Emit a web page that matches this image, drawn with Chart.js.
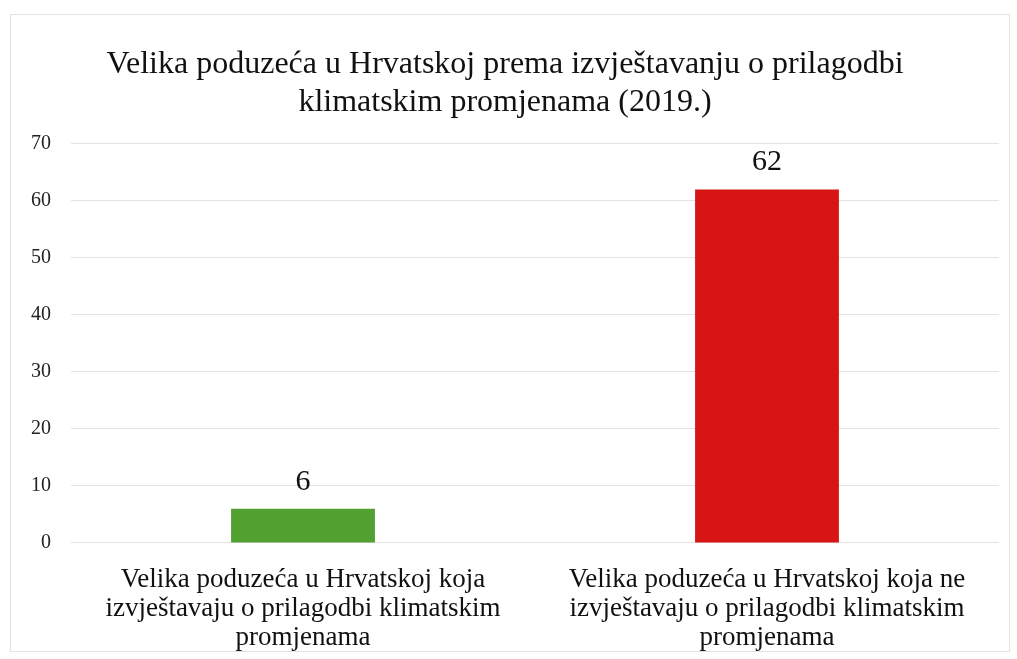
<!DOCTYPE html>
<html lang="hr">
<head>
    <meta charset="UTF-8">
    <title>Velika poduzeća u Hrvatskoj</title>
    <script src="https://cdn.jsdelivr.net/npm/chart.js"></script>
    <style>
        body { margin: 0; background: #fff; overflow: hidden; }
        #wrap {
            position: absolute; left: 10px; top: 14px;
            width: 998px; height: 636px;
            border: 1px solid #e2e2e2;
        }
    </style>
</head>
<body>
    <div id="wrap">
        <canvas id="myChart"></canvas>
    </div>

    <script>
        const categories = [
            ['Velika poduzeća u Hrvatskoj koja', 'izvještavaju o prilagodbi klimatskim', 'promjenama'],
            ['Velika poduzeća u Hrvatskoj koja ne', 'izvještavaju o prilagodbi klimatskim', 'promjenama']
        ];
        const values = [6, 62];
        const barColors = ['#51a030', '#d81515'];
        const titleLines = [
            'Velika poduzeća u Hrvatskoj prema izvještavanju o prilagodbi',
            'klimatskim promjenama (2019.)'
        ];

        const serif = "'Liberation Serif', 'Times New Roman', serif";

        // draws the value above each bar
        const valueLabels = {
            id: 'valueLabels',
            afterDatasetsDraw(chart) {
                const ctx = chart.ctx;
                ctx.save();
                ctx.font = '30px ' + serif;
                ctx.fillStyle = '#111';
                ctx.textAlign = 'center';
                ctx.textBaseline = 'alphabetic';
                chart.getDatasetMeta(0).data.forEach((bar, i) => {
                    ctx.fillText(values[i], bar.x, bar.y - 19);
                });
                ctx.restore();
            }
        };

        const ctx = document.getElementById('myChart').getContext('2d');
        const myChart = new Chart(ctx, {
            type: 'bar',
            data: {
                labels: categories,
                datasets: [{
                    data: values,
                    backgroundColor: barColors,
                    barPercentage: 0.62,
                    categoryPercentage: 0.5
                }]
            },
            options: {
                responsive: true,
                maintainAspectRatio: false,
                animation: false,
                // x axis reserves more room under its labels than needed, so pull it down
                layout: { padding: { left: 0, right: 10, top: 8, bottom: -23 } },
                plugins: {
                    legend: { display: false },
                    tooltip: { enabled: false },
                    title: {
                        display: true,
                        text: titleLines,
                        color: '#111',
                        font: { family: serif, size: 32, weight: 'normal', lineHeight: 1.2 },
                        padding: { top: 22, bottom: 22 }
                    }
                },
                scales: {
                    x: {
                        grid: { display: false, drawTicks: false },
                        border: { display: false },
                        ticks: {
                            color: '#111',
                            font: { family: serif, size: 27, lineHeight: 1.075 },
                            maxRotation: 0,
                            padding: 22
                        }
                    },
                    y: {
                        min: 0,
                        max: 70,
                        grid: { color: '#e3e3e3', drawTicks: false },
                        border: { display: false },
                        ticks: {
                            stepSize: 10,
                            color: '#222',
                            font: { family: serif, size: 20 },
                            padding: 20
                        }
                    }
                }
            },
            plugins: [valueLabels]
        });
    </script>
</body>
</html>
